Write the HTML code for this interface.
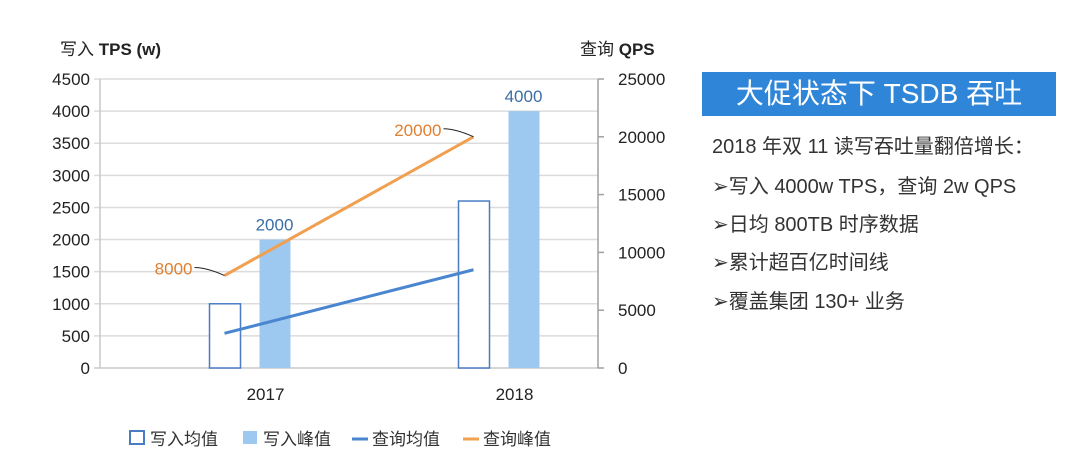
<!DOCTYPE html>
<html><head><meta charset="utf-8"><style>
body{margin:0;background:#fff;width:1080px;height:466px;overflow:hidden;font-family:"Liberation Sans","Noto Sans CJK SC",sans-serif}
.t{position:absolute;color:#333;font-size:20px;white-space:nowrap}
</style></head><body>
<svg width="1080" height="466" style="position:absolute;left:0;top:0" id="svg" font-family="Liberation Sans, Noto Sans CJK SC, sans-serif">
<text x="60" y="55" font-size="17" fill="#222">写入 <tspan font-weight="bold">TPS (w)</tspan></text>
<text x="580" y="55" font-size="17" fill="#222">查询 <tspan font-weight="bold">QPS</tspan></text>
<g id="g"></g>
</svg>
<div style="position:absolute;left:702px;top:72px;width:354px;height:44px;background:#2f86d8;color:#fff;font-size:28px;text-align:center;line-height:44px">大促状态下 TSDB 吞吐</div>
<div class="t" style="left:712px;top:130px">2018 年双 11 读写吞吐量翻倍增长：</div>
<div class="t" style="left:712px;top:170px">➢写入 4000w TPS，查询 2w QPS</div>
<div class="t" style="left:712px;top:208px">➢日均 800TB 时序数据</div>
<div class="t" style="left:712px;top:246px">➢累计超百亿时间线</div>
<div class="t" style="left:712px;top:285px">➢覆盖集团 130+ 业务</div>
<script>
const categories=["2017","2018"];
const writeAvg=[1000,2600];
const writePeak=[2000,4000];
const queryAvg=[3000,8500];
const queryPeak=[8000,20000];
const leftTicks=[0,500,1000,1500,2000,2500,3000,3500,4000,4500];
const rightTicks=[0,5000,10000,15000,20000,25000];
const NS="http://www.w3.org/2000/svg";
const g=document.getElementById('g');
const X0=100,X1=598,Y0=368,Y1=79;
const yL=v=>Y0-(v/4500)*(Y0-Y1);
const yR=v=>Y0-(v/25000)*(Y0-Y1);
const bw=(X1-X0)/categories.length;
const cx=i=>X0+bw*(i+0.5);
function mk(tag,a){const e=document.createElementNS(NS,tag);for(const k in a)e.setAttribute(k,a[k]);g.appendChild(e);return e;}
leftTicks.forEach(v=>{
 const l=mk('line',{x1:X0-6,x2:X1,y1:yL(v),y2:yL(v),stroke:v?'#dcdcdc':'#c8c8c8','stroke-width':1.5});
 
 
 const t=mk('text',{x:X0-10,y:yL(v)+6,'text-anchor':'end','font-size':17,fill:'#222'});t.textContent=v;
 
 
});
const la=mk('line',{x1:X0,x2:X0,y1:Y1,y2:Y0,stroke:'#c8c8c8','stroke-width':1.5});


const ra=mk('line',{x1:X1,x2:X1,y1:Y1,y2:Y0,stroke:'#a0a0a0','stroke-width':1.5});


rightTicks.forEach(v=>{
 mk('line',{x1:X1,x2:X1+6,y1:yR(v),y2:yR(v),stroke:'#a0a0a0','stroke-width':1.5});
 const t=mk('text',{x:X1+20,y:yR(v)+6,'font-size':17,fill:'#222'});t.textContent=v;
 
 
});
categories.forEach((c,i)=>{
 const a=mk('rect',{x:cx(i)-15,y:yL(writeAvg[i]),width:31,height:Y0-yL(writeAvg[i]),fill:'#fff',stroke:'#4a7cc4','stroke-width':1.5});
 
 
 const p=mk('rect',{x:cx(i)+35,y:yL(writePeak[i]),width:31,height:Y0-yL(writePeak[i]),fill:'#9dc8ef'});
 
 
 const pl=mk('text',{x:cx(i)+50,y:yL(writePeak[i])-9,'text-anchor':'middle','font-size':17,fill:'#3b6ea5'});pl.textContent=writePeak[i];
 
 
 const xl=mk('text',{x:cx(i)+41,y:400,'text-anchor':'middle','font-size':17,fill:'#222'});xl.textContent=c;
 
 
});
const px=i=>cx(i);
const qa=mk('line',{x1:px(0),y1:yR(queryAvg[0]),x2:px(1),y2:yR(queryAvg[1]),stroke:'#4a86d0','stroke-width':3});


const qp=mk('line',{x1:px(0),y1:yR(queryPeak[0]),x2:px(1),y2:yR(queryPeak[1]),stroke:'#f0a050','stroke-width':3});


queryPeak.forEach((v,i)=>{
 mk('path',{d:`M${px(i)-30} ${yR(v)-8} Q${px(i)-18} ${yR(v)-8} ${px(i)} ${yR(v)}`,stroke:'#222',fill:'none','stroke-width':1});
 const t=mk('text',{x:px(i)-32,y:yR(v)-1,'text-anchor':'end','font-size':17,fill:'#e07f30'});t.textContent=v;
 
 
});
const lg=[[130,'box','写入均值'],[243,'fill','写入峰值'],[352,'blue','查询均值'],[463,'orange','查询峰值']];
lg.forEach(([x,k,s])=>{
 if(k=='box')mk('rect',{x:x,y:431,width:14,height:13,fill:'#fff',stroke:'#4a7cc4','stroke-width':2});
 if(k=='fill')mk('rect',{x:x,y:431,width:14,height:13,fill:'#9dc8ef'});
 if(k=='blue')mk('line',{x1:x,x2:x+16,y1:439,y2:439,stroke:'#4a86d0','stroke-width':3});
 if(k=='orange')mk('line',{x1:x,x2:x+16,y1:439,y2:439,stroke:'#f0a050','stroke-width':3});
 const t=mk('text',{x:x+20,y:445,'font-size':17,fill:'#333'});t.textContent=s;
 
 
});
</script>
</body></html>
